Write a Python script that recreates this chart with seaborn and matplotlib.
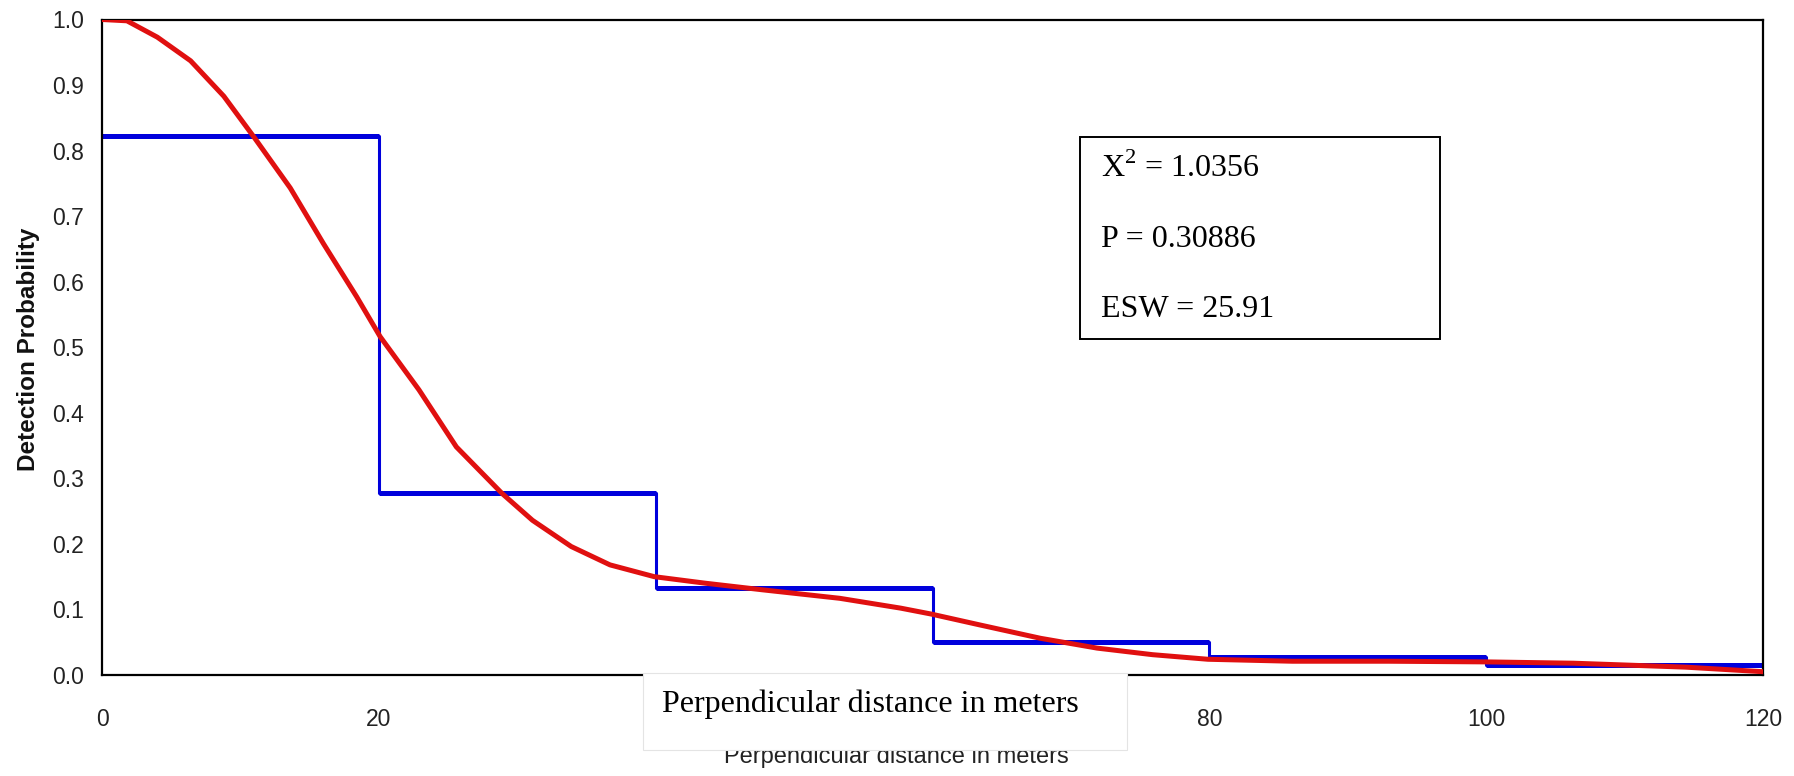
import matplotlib
matplotlib.use("Agg")
import matplotlib.pyplot as plt
from matplotlib.patches import Rectangle
import seaborn as sns

# Histogram of observed detections (bins of 20 m), scaled
bin_edges = [0, 20, 40, 60, 80, 100, 120]
bin_mids = [10, 30, 50, 70, 90, 110]
bar_heights = [0.822, 0.277, 0.133, 0.050, 0.027, 0.015]

# Fitted detection function
curve_x = [0, 1.8, 4.0, 6.4, 8.8, 11.0, 13.6, 16.0, 18.4, 20.1, 22.9, 25.6,
           28.9, 31.1, 33.9, 36.7, 39.9, 43.6, 47.7, 53.3, 57.7, 59.9, 63.5,
           67.8, 71.9, 75.9, 79.9, 86.0, 93.0, 100.0, 106.3, 114.4, 120.0]
curve_y = [1.0, 0.998, 0.973, 0.937, 0.883, 0.82, 0.743, 0.658, 0.577, 0.516,
           0.435, 0.348, 0.277, 0.236, 0.196, 0.168, 0.150, 0.140, 0.130,
           0.117, 0.102, 0.093, 0.076, 0.056, 0.041, 0.031, 0.024, 0.021,
           0.021, 0.020, 0.018, 0.012, 0.005]

x_ticks = [0, 20, 40, 60, 80, 100, 120]
# 40 and 60 are hidden under the pasted label in the original
x_ticklabels = ["0", "20", "", "", "80", "100", "120"]
y_ticks = [0.0, 0.1, 0.2, 0.3, 0.4, 0.5, 0.6, 0.7, 0.8, 0.9, 1.0]

stats_lines = [r"X$^{\mathrm{2}}$ = 1.0356", "P = 0.30886", "ESW = 25.91"]

BLUE = "#0000dc"
RED = "#e01010"

sns.set_style("white")
plt.rcParams["font.family"] = ["Liberation Sans", "DejaVu Sans"]
plt.rcParams["mathtext.fontset"] = "custom"
plt.rcParams["mathtext.rm"] = "Liberation Serif"

W, H = 1794, 776
fig = plt.figure(figsize=(W / 100, H / 100), dpi=100)
fig.patch.set_facecolor("white")
ax = fig.add_axes([102 / W, 1 - 675 / H, 1661 / W, 655.5 / H])

# blue outline histogram
sns.histplot(x=bin_mids, weights=bar_heights, bins=bin_edges, element="step",
             fill=False, color=BLUE, linewidth=2.2, ax=ax, zorder=2)
ax.hlines(bar_heights, bin_edges[:-1], bin_edges[1:], color=BLUE,
          linewidth=3.6, zorder=2)

# red fitted curve
sns.lineplot(x=curve_x, y=curve_y, color=RED, linewidth=3.6, ax=ax, zorder=3)

ax.set_xlim(0, 120)
ax.set_ylim(0, 1.0)
ax.set_xticks(x_ticks)
ax.set_xticklabels(x_ticklabels)
ax.set_yticks(y_ticks)
ax.set_yticklabels([f"{t:.1f}" for t in y_ticks])
ax.set_xlabel("")
ax.set_ylabel("")
for s in ax.spines.values():
    s.set_visible(True)
    s.set_color("black")
    s.set_linewidth(1.6)
ax.tick_params(axis="both", direction="inout", length=10, width=1.6,
               color="black", labelsize=16.5, labelcolor="#222222")
ax.tick_params(axis="y", pad=8)
ax.tick_params(axis="x", pad=19)

# statistics box (figure pixels measured from the top)
ax.add_patch(Rectangle((1080 / W, 1 - 339 / H), 360 / W, 202 / H,
                       transform=fig.transFigure, fill=False,
                       edgecolor="black", linewidth=1.4, zorder=4))
for i, line in enumerate(stats_lines):
    fig.text(1101 / W, 1 - (177 + 70 * i) / H, line, ha="left", va="baseline",
             fontsize=23, family="Liberation Serif", color="black")

# axis labels
fig.text(29 / W, 1 - 349 / H, "Detection Probability", rotation=90,
         ha="center", va="center", fontsize=17.5, fontweight="bold",
         color="#111111")
fig.text(896 / W, 1 - 763 / H, "Perpendicular distance in meters",
         ha="center", va="baseline", fontsize=17, color="#222222", zorder=1)

# pasted-over white label box
fig.patches.append(Rectangle((643 / W, 1 - 750 / H), 484 / W, 77 / H,
                             transform=fig.transFigure, facecolor="white",
                             edgecolor="#e4e4e4", linewidth=0.8, zorder=5))
fig.text(870 / W, 1 - 712 / H, "Perpendicular distance in meters",
         ha="center", va="baseline", fontsize=23, family="Liberation Serif",
         color="black", zorder=6)

fig.savefig("out.png", dpi=100, facecolor="white")
